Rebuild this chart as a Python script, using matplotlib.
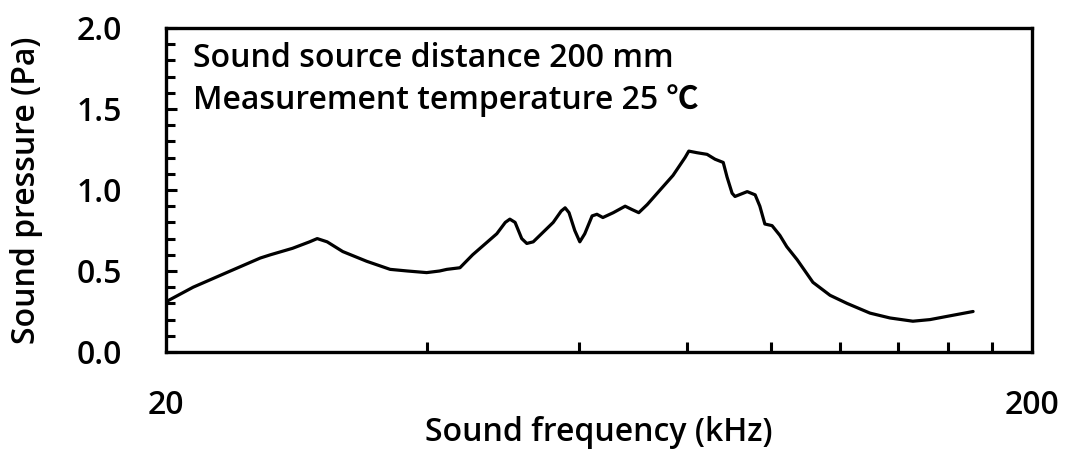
import matplotlib.pyplot as plt
from matplotlib.ticker import FixedLocator, NullFormatter

plt.rcParams['font.family'] = ['Open Sans', 'Noto Sans CJK JP', 'DejaVu Sans']

# sound pressure vs frequency, 200 mm from the source
freq_khz = [20.0, 21.5, 23.5, 25.7, 26.4, 28.0, 29.3, 29.9, 30.7, 32.0, 34.1,
            36.3, 38.0, 40.0, 41.4, 42.2, 43.7, 45.2, 48.2, 49.3, 49.9, 50.6,
            51.5, 52.2, 53.1, 56.0, 57.2, 57.8, 58.4, 59.3, 60.1, 60.9, 62.1,
            62.9, 63.9, 65.7, 67.8, 69.0, 70.3, 71.9, 74.4, 77.0, 79.5, 80.3,
            82.1, 84.3, 86.1, 88.0, 88.9, 90.1, 90.8, 93.8, 95.8, 97.0, 98.3,
            100.2, 102.3, 104.2, 107.1, 111.7, 116.9, 122.3, 130.0, 137.1,
            145.7, 152.5, 159.6, 171.0]
pressure_pa = [0.31, 0.40, 0.49, 0.58, 0.60, 0.64, 0.68, 0.70, 0.68, 0.62, 0.56,
               0.51, 0.50, 0.49, 0.50, 0.51, 0.52, 0.60, 0.73, 0.80, 0.82, 0.80,
               0.70, 0.67, 0.68, 0.80, 0.87, 0.89, 0.86, 0.75, 0.68, 0.73, 0.84,
               0.85, 0.83, 0.86, 0.90, 0.88, 0.86, 0.91, 1.00, 1.09, 1.20, 1.24,
               1.23, 1.22, 1.19, 1.17, 1.08, 0.98, 0.96, 0.99, 0.97, 0.90, 0.79,
               0.78, 0.72, 0.65, 0.57, 0.43, 0.35, 0.30, 0.24, 0.21, 0.19, 0.20,
               0.22, 0.25]

fig = plt.figure(figsize=(10.68, 4.5), dpi=100)
ax = fig.add_axes([0.1554, 0.2178, 0.8109, 0.72])

ax.plot(freq_khz, pressure_pa, color='black', linewidth=2.3,
        solid_joinstyle='round', solid_capstyle='round')

ax.set_xscale('log')
ax.set_xlim(20, 200)
ax.set_ylim(0, 2.0)

# only the end labels on x, inner ticks every 20 kHz
ax.xaxis.set_major_locator(FixedLocator([20, 200]))
ax.set_xticklabels(['20', '200'])
ax.xaxis.set_minor_locator(FixedLocator([40, 60, 80, 100, 120, 140, 160, 180]))
ax.xaxis.set_minor_formatter(NullFormatter())
ax.tick_params(axis='x', which='major', length=0, pad=27, labelsize=23)
ax.tick_params(axis='x', which='minor', direction='in', length=7, width=2.2)

ax.set_yticks([0.0, 0.5, 1.0, 1.5, 2.0])
ax.set_yticklabels(['0.0', '0.5', '1.0', '1.5', '2.0'])
ax.set_yticks([i / 10 for i in range(21) if i % 5], minor=True)
ax.tick_params(axis='y', which='major', direction='in', length=8, width=2.2,
               pad=32, labelsize=23)
ax.tick_params(axis='y', which='minor', direction='in', length=6.5, width=2.2)

for side in ax.spines.values():
    side.set_linewidth(2.4)

ax.set_xlabel('Sound frequency (kHz)', fontsize=23, fontweight='semibold', va='center')
ax.set_ylabel('Sound pressure (Pa)', fontsize=23, fontweight='semibold', va='center')
ax.xaxis.set_label_coords(0.5, -0.247)
ax.yaxis.set_label_coords(-0.1605, 0.5)
for lbl in ax.get_xticklabels() + ax.get_yticklabels():
    lbl.set_fontweight('semibold')

ax.text(0.031, 0.957, 'Sound source distance 200 mm\nMeasurement temperature 25 ℃',
        transform=ax.transAxes, ha='left', va='top', fontsize=23,
        fontweight='semibold', linespacing=1.35)

fig.savefig('out.png', dpi=100)
